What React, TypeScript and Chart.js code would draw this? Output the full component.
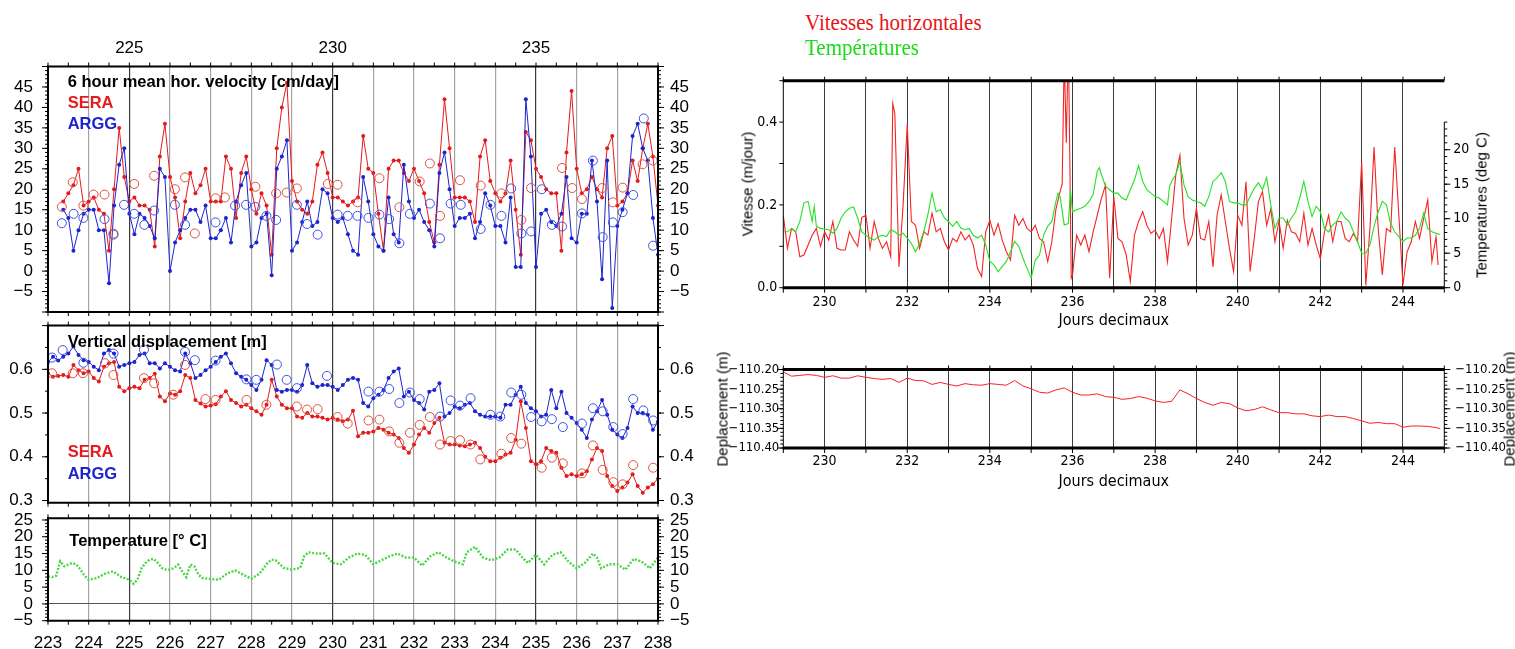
import React, { useEffect, useRef } from 'react';
import { Chart, registerables } from 'chart.js';

Chart.register(...registerables);

// ------------------------------------------------------------------
// DATA
// ------------------------------------------------------------------

// Left figure: common sampling days (every 3 h) for velocity and vertical displacement
const LEFT_DAYS = [
  223, 223.125, 223.25, 223.375, 223.5, 223.625, 223.75, 223.875,
  224, 224.125, 224.25, 224.375, 224.5, 224.625, 224.75, 224.875,
  225, 225.125, 225.25, 225.375, 225.5, 225.625, 225.75, 225.875,
  226, 226.125, 226.25, 226.375, 226.5, 226.625, 226.75, 226.875,
  227, 227.125, 227.25, 227.375, 227.5, 227.625, 227.75, 227.875,
  228, 228.125, 228.25, 228.375, 228.5, 228.625, 228.75, 228.875,
  229, 229.125, 229.25, 229.375, 229.5, 229.625, 229.75, 229.875,
  230, 230.125, 230.25, 230.375, 230.5, 230.625, 230.75, 230.875,
  231, 231.125, 231.25, 231.375, 231.5, 231.625, 231.75, 231.875,
  232, 232.125, 232.25, 232.375, 232.5, 232.625, 232.75, 232.875,
  233, 233.125, 233.25, 233.375, 233.5, 233.625, 233.75, 233.875,
  234, 234.125, 234.25, 234.375, 234.5, 234.625, 234.75, 234.875,
  235, 235.125, 235.25, 235.375, 235.5, 235.625, 235.75, 235.875,
  236, 236.125, 236.25, 236.375, 236.5, 236.625, 236.75, 236.875,
  237, 237.125, 237.25, 237.375, 237.5, 237.625, 237.75, 237.875,
  238,
];
// labelled days on the top axis of the velocity panel
const LEFT_TOP_DAYS = [225, 230, 235];

// 6 hour mean horizontal velocity [cm/day]
const SERA_VEL = [
  null, null, null, 17, 19, 21, 25, 16,
  17, 18, 15, 14, 5, 20, 35, 23,
  17, 18, 16, 16, 15, 6, 28, 36,
  23, 18, 8, 17, 24, 19, 21, 25,
  17, 17, 17, 28, 25, 13, 24, 28,
  20, 14, 19, 16, 4, 30, 40, 46,
  22, 17, 15, 14, 17, 26, 29, 24,
  18, 18, 17, 16, 17, 18, 33, 25,
  24, 14, 5, 25, 27, 27, 24, 22,
  25, 22, 19, 12, 7, 26, 42, 30,
  18, 18, 18, 17, 12, 28, 32, 22,
  19, 17, 19, 27, 15, 4, 34, 32,
  25, 23, 20, 19, 19, 5, 29, 44,
  25, 19, 20, 23, 20, 18, 30, 33,
  16, 17, 19, 27, 22, 30, 36, 28,
  16,
];
const ARGG_VEL = [
  null, null, null, 15, 13, 5, 10, 14,
  15, 15, 10, 10, -3, 16, 26, 30,
  14, 9, 14, 13, 11, 8, 25, 23,
  0, 7, 10, 13, 15, 15, 12, 16,
  8, 8, 10, 13, 7, 17, 21, 24,
  6, 7, 13, 14, -1, 25, 28, 32,
  5, 7, 12, 17, 11, 12, 20, 19,
  13, 12, 13, 9, 5, 4, 23, 17,
  9, 6, 5, 18, 9, 7, 26, 17,
  13, 15, 12, 10, 6, 24, 29, 20,
  11, 13, 13, 14, 8, 12, 19, 16,
  11, 11, 7, 18, 1, 1, 42, 28,
  1, 14, 15, 12, 11, 14, 23, 8,
  7, 14, 14, 27, 17, -2, 27, -9,
  11, 15, 19, 33, 36, 30, 27, 13,
  4,
];

// open circles (velocity)
const SERA_VEL_O_DAYS = [223.34, 223.61, 223.87, 224.12, 224.39, 224.61, 225.12, 225.61, 226.12, 226.37, 226.61, 227.12, 227.35, 228.1, 228.61, 228.87, 229.12, 229.88, 230.12, 230.61, 231.15, 231.64, 232.14, 232.39, 232.64, 233.13, 233.64, 234.15, 234.64, 234.88, 235.64, 235.89, 236.13, 236.63, 236.89, 237.13, 237.62, 237.87];
const SERA_VEL_O = [15.7, 21.7, 16, 18.7, 18.7, 9.2, 21.3, 23.3, 20, 22.9, 9.2, 17.8, 18, 20.6, 19, 19.2, 20.2, 21.3, 21.1, 16.8, 22.7, 15.6, 21.9, 26.3, 13.5, 22.2, 20.9, 19, 12.5, 20.3, 25.2, 20.3, 17.6, 20.3, 16.8, 20.4, 26.1, 27];
const ARGG_VEL_O_DAYS = [223.34, 223.63, 223.87, 224.39, 224.61, 224.87, 225.12, 225.37, 225.61, 226.12, 226.37, 227.12, 227.6, 227.87, 228.1, 228.37, 228.61, 229.12, 229.37, 229.63, 230.12, 230.37, 230.61, 230.88, 231.15, 231.39, 231.64, 231.9, 232.39, 232.64, 232.9, 233.15, 233.64, 233.88, 234.15, 234.39, 234.64, 234.88, 235.14, 235.39, 235.64, 236.13, 236.4, 236.64, 236.89, 237.13, 237.39, 237.65, 237.88];
const ARGG_VEL_O = [11.7, 14, 13, 12.7, 8.9, 16.2, 14, 11.3, 14.8, 16.2, 11.3, 11.9, 16, 16.2, 15.7, 13.5, 12.5, 16.2, 11.5, 8.9, 13.8, 13.5, 13.5, 13, 13.8, 12.7, 6.8, 14, 16.5, 8, 16.5, 16.2, 10.3, 16.2, 13.5, 20.2, 9.2, 9.7, 20, 11.3, 10.9, 14.1, 27, 8.3, 11.9, 14.4, 18.6, 37.3, 6.2];

// Vertical displacement [m]
const SERA_DISP = [
  0.591, 0.583, 0.585, 0.587, 0.583, 0.61, 0.598, 0.591,
  0.595, 0.58, 0.572, 0.606, 0.614, 0.617, 0.56, 0.55,
  0.557, 0.56, 0.557, 0.576, 0.58, 0.59, 0.538, 0.527,
  0.545, 0.542, 0.55, 0.587, 0.58, 0.53, 0.522, 0.515,
  0.517, 0.52, 0.538, 0.55, 0.53, 0.523, 0.515, 0.519,
  0.511, 0.504, 0.496, 0.519, 0.576, 0.538, 0.519, 0.511,
  0.511, 0.492, 0.489, 0.5, 0.492, 0.492, 0.489, 0.485,
  0.489, 0.485, 0.481, 0.485, 0.505, 0.447, 0.455, 0.455,
  0.458, 0.466, 0.462, 0.455, 0.451, 0.443, 0.42, 0.409,
  0.428, 0.451, 0.466, 0.455, 0.477, 0.489, 0.432, 0.428,
  0.428, 0.426, 0.424, 0.428, 0.432, 0.42, 0.4, 0.39,
  0.39, 0.398, 0.405, 0.409, 0.439, 0.527, 0.466, 0.39,
  0.383, 0.39, 0.42, 0.413, 0.409, 0.375, 0.356, 0.36,
  0.356, 0.36, 0.367, 0.394, 0.42, 0.413, 0.356, 0.333,
  0.322, 0.33, 0.341, 0.36, 0.333, 0.318, 0.33, 0.337,
  0.35,
];
const ARGG_DISP = [
  0.617, 0.629, 0.62, 0.629, 0.636, 0.652, 0.633, 0.621,
  0.617, 0.606, 0.598, 0.636, 0.644, 0.636, 0.606, 0.61,
  0.614, 0.617, 0.633, 0.636, 0.614, 0.614, 0.602, 0.614,
  0.606, 0.598, 0.595, 0.636, 0.614, 0.58, 0.587, 0.598,
  0.606, 0.617, 0.629, 0.636, 0.614, 0.591, 0.583, 0.576,
  0.564, 0.553, 0.576, 0.621, 0.61, 0.553, 0.549, 0.553,
  0.553, 0.549, 0.564, 0.61, 0.568, 0.56, 0.564, 0.564,
  0.56, 0.553, 0.564, 0.576, 0.58, 0.576, 0.523, 0.515,
  0.534, 0.542, 0.553, 0.58, 0.595, 0.602, 0.538, 0.549,
  0.53, 0.523, 0.508, 0.549, 0.553, 0.568, 0.492, 0.5,
  0.515, 0.511, 0.519, 0.523, 0.504, 0.496, 0.492, 0.492,
  0.492, 0.489, 0.519, 0.519, 0.542, 0.56, 0.523, 0.511,
  0.504, 0.492, 0.496, 0.553, 0.511, 0.549, 0.5, 0.489,
  0.477, 0.462, 0.443, 0.485, 0.504, 0.53, 0.496, 0.462,
  0.451, 0.443, 0.466, 0.515, 0.5, 0.5, 0.496, 0.462,
  0.48,
];

// open circles (displacement)
const SERA_DISP_O_DAYS = [223.1, 223.61, 223.86, 224.4, 224.61, 225.36, 225.61, 226.08, 226.37, 226.87, 227.12, 227.88, 228.37, 229.12, 229.37, 229.63, 230.12, 230.37, 230.88, 231.15, 231.39, 231.64, 231.9, 232.14, 232.39, 232.64, 232.9, 233.13, 233.39, 233.63, 234.15, 234.39, 234.64, 235.14, 235.39, 235.66, 236.13, 236.4, 236.64, 236.9, 237.13, 237.39, 237.88];
const SERA_DISP_O = [0.591, 0.591, 0.591, 0.614, 0.587, 0.58, 0.568, 0.542, 0.61, 0.532, 0.53, 0.53, 0.519, 0.515, 0.508, 0.509, 0.491, 0.476, 0.483, 0.485, 0.458, 0.432, 0.455, 0.473, 0.491, 0.428, 0.436, 0.438, 0.428, 0.394, 0.407, 0.443, 0.43, 0.375, 0.398, 0.385, 0.362, 0.426, 0.37, 0.342, 0.337, 0.381, 0.375];
const ARGG_DISP_O_DAYS = [223.1, 223.36, 223.87, 224.61, 225.36, 226.37, 226.61, 227.12, 227.88, 228.12, 228.63, 228.87, 229.12, 229.86, 230.88, 231.15, 231.39, 231.64, 231.9, 232.14, 232.64, 232.9, 233.13, 233.39, 233.88, 234.12, 234.39, 234.64, 234.88, 235.14, 235.39, 235.66, 236.13, 236.4, 236.64, 236.9, 237.13, 237.39, 237.64, 237.88];
const ARGG_DISP_O = [0.627, 0.644, 0.615, 0.636, 0.645, 0.64, 0.621, 0.62, 0.577, 0.576, 0.611, 0.576, 0.557, 0.585, 0.549, 0.549, 0.555, 0.523, 0.547, 0.532, 0.492, 0.529, 0.517, 0.534, 0.496, 0.492, 0.547, 0.542, 0.491, 0.481, 0.486, 0.468, 0.476, 0.511, 0.504, 0.468, 0.452, 0.532, 0.506, 0.483];

// Temperature [deg C] (left figure)
const TEMP_L_DAYS = [223.0, 223.1, 223.2, 223.3, 223.4, 223.5, 223.6, 223.7, 223.8, 223.9, 224.0, 224.2, 224.4, 224.6, 224.8, 225.0, 225.1, 225.2, 225.3, 225.4, 225.5, 225.6, 225.7, 225.8, 225.9, 226.0, 226.1, 226.2, 226.3, 226.4, 226.5, 226.6, 226.7, 226.8, 227.0, 227.2, 227.4, 227.6, 227.8, 228.0, 228.2, 228.4, 228.5, 228.6, 228.8, 229.0, 229.2, 229.3, 229.4, 229.6, 229.8, 230.0, 230.2, 230.4, 230.6, 230.8, 231.0, 231.2, 231.4, 231.6, 231.8, 232.0, 232.2, 232.4, 232.6, 232.8, 233.0, 233.2, 233.3, 233.5, 233.7, 233.9, 234.1, 234.3, 234.5, 234.7, 234.8, 235.0, 235.2, 235.4, 235.6, 235.8, 236.0, 236.2, 236.4, 236.5, 236.6, 236.8, 237.0, 237.2, 237.4, 237.6, 237.8, 238.0];
const TEMP_L = [8.2, 8.0, 8.4, 12.7, 11.2, 11.7, 12.2, 11.7, 10.2, 8.4, 7.2, 7.7, 9.0, 9.7, 8.0, 7.2, 6.0, 7.2, 10.7, 12.2, 13.2, 13.4, 12.2, 10.7, 10.2, 10.2, 10.7, 11.7, 9.7, 8.0, 11.7, 11.2, 8.7, 7.7, 7.4, 7.2, 9.0, 10.0, 8.7, 7.5, 9.0, 12.2, 13.2, 13.0, 10.7, 10.2, 10.7, 14.2, 15.4, 15.0, 15.0, 12.2, 11.8, 13.8, 15.0, 14.6, 11.8, 13.0, 14.2, 15.0, 13.8, 13.8, 11.4, 14.2, 15.4, 13.8, 12.6, 11.8, 15.4, 17.0, 13.8, 13.0, 13.8, 16.2, 16.2, 13.4, 12.2, 14.6, 11.8, 14.6, 15.4, 12.6, 10.6, 12.2, 15.0, 13.8, 10.6, 11.8, 11.8, 10.2, 13.4, 12.6, 10.6, 13.8];

// Right figure: horizontal velocity [m/jour]
const R_VEL_DAYS = [
  229.0, 229.1, 229.2, 229.3, 229.4, 229.5, 229.6, 229.7, 229.8, 229.9,
  230.0, 230.1, 230.2, 230.3, 230.4, 230.5, 230.6, 230.7, 230.8, 230.9,
  231.0, 231.1, 231.2, 231.3, 231.4, 231.5, 231.6, 231.65, 231.7, 231.8, 231.9,
  232.0, 232.1, 232.2, 232.3, 232.4, 232.5, 232.6, 232.7, 232.8, 232.9,
  233.0, 233.1, 233.2, 233.3, 233.4, 233.5, 233.6, 233.7, 233.8, 233.9,
  234.0, 234.1, 234.2, 234.3, 234.4, 234.5, 234.6, 234.7, 234.8, 234.9,
  235.0, 235.1, 235.2, 235.3, 235.4, 235.5, 235.6, 235.7, 235.75, 235.8, 235.85, 235.9, 235.97,
  236.0, 236.1, 236.2, 236.3, 236.4, 236.5, 236.6, 236.7, 236.8, 236.9,
  237.0, 237.1, 237.2, 237.3, 237.4, 237.5, 237.6, 237.7, 237.8, 237.9,
  238.0, 238.1, 238.2, 238.3, 238.4, 238.5, 238.6, 238.7, 238.8, 238.9,
  239.0, 239.1, 239.2, 239.3, 239.4, 239.5, 239.6, 239.7, 239.8, 239.9,
  240.0, 240.1, 240.2, 240.3, 240.4, 240.5, 240.6, 240.7, 240.8, 240.9,
  241.0, 241.1, 241.2, 241.3, 241.4, 241.5, 241.6, 241.7, 241.8, 241.9,
  242.0, 242.1, 242.2, 242.3, 242.4, 242.5, 242.6, 242.7, 242.8, 242.9,
  243.0, 243.1, 243.2, 243.3, 243.4, 243.5, 243.6, 243.7, 243.8, 243.9,
  244.0, 244.1, 244.2, 244.3, 244.4, 244.5, 244.6, 244.7, 244.8, 244.85,
];
const R_VEL = [
  0.175, 0.095, 0.143, 0.135, 0.075, 0.079, 0.103, 0.127, 0.143, 0.100,
  0.135, 0.115, 0.160, 0.095, 0.091, 0.091, 0.135, 0.115, 0.100, 0.170,
  0.175, 0.095, 0.160, 0.119, 0.095, 0.111, 0.075, 0.445, 0.420, 0.050, 0.200,
  0.395, 0.160, 0.151, 0.095, 0.135, 0.127, 0.180, 0.135, 0.143, 0.111,
  0.091, 0.119, 0.111, 0.135, 0.115, 0.127, 0.103, 0.047, 0.027, 0.135,
  0.163, 0.127, 0.155, 0.115, 0.087, 0.067, 0.175, 0.151, 0.167, 0.143,
  0.135, 0.151, 0.119, 0.111, 0.063, 0.111, 0.190, 0.232, 0.250, 0.560, 0.350, 0.600, 0.023,
  0.030, 0.127, 0.103, 0.127, 0.087, 0.135, 0.175, 0.216, 0.248, 0.023,
  0.220, 0.119, 0.111, 0.079, 0.015, 0.127, 0.160, 0.184, 0.151, 0.131,
  0.139, 0.119, 0.143, 0.063, 0.167, 0.272, 0.320, 0.167, 0.103, 0.127,
  0.192, 0.119, 0.115, 0.160, 0.050, 0.175, 0.224, 0.160, 0.095, 0.039,
  0.175, 0.151, 0.256, 0.039, 0.119, 0.208, 0.232, 0.151, 0.190, 0.111,
  0.160, 0.095, 0.163, 0.135, 0.131, 0.111, 0.180, 0.103, 0.143, 0.103,
  0.070, 0.135, 0.175, 0.111, 0.160, 0.160, 0.119, 0.111, 0.131, 0.111,
  0.304, 0.006, 0.143, 0.340, 0.143, 0.031, 0.143, 0.135, 0.340, 0.175,
  0.006, 0.087, 0.111, 0.160, 0.119, 0.167, 0.212, 0.063, 0.123, 0.055,
];

// Right figure: temperatures [deg C]
const R_TEMP_DAYS = [
  229.0, 229.1, 229.2, 229.3, 229.4, 229.5, 229.6, 229.7, 229.75, 229.8, 229.9,
  230.0, 230.1, 230.2, 230.3, 230.4, 230.5, 230.6, 230.7, 230.8, 230.9,
  231.0, 231.1, 231.2, 231.3, 231.4, 231.5, 231.6, 231.7, 231.8, 231.9,
  232.0, 232.1, 232.2, 232.3, 232.4, 232.5, 232.6, 232.7, 232.8, 232.9,
  233.0, 233.1, 233.2, 233.3, 233.4, 233.5, 233.6, 233.7, 233.8, 233.9,
  234.0, 234.1, 234.2, 234.3, 234.4, 234.5, 234.6, 234.7, 234.8, 234.9,
  235.0, 235.1, 235.2, 235.3, 235.4, 235.5, 235.6, 235.65, 235.7, 235.8, 235.9, 235.95,
  236.0, 236.1, 236.2, 236.3, 236.4, 236.5, 236.6, 236.65, 236.7, 236.8, 236.9,
  237.0, 237.1, 237.2, 237.3, 237.4, 237.5, 237.6, 237.7, 237.8, 237.9,
  238.0, 238.1, 238.2, 238.3, 238.35, 238.4, 238.5, 238.6, 238.7, 238.8, 238.9,
  239.0, 239.1, 239.2, 239.3, 239.4, 239.5, 239.6, 239.7, 239.8, 239.9,
  240.0, 240.1, 240.2, 240.3, 240.4, 240.5, 240.6, 240.7, 240.8, 240.9,
  241.0, 241.1, 241.2, 241.3, 241.4, 241.5, 241.6, 241.7, 241.8, 241.9,
  242.0, 242.1, 242.2, 242.3, 242.4, 242.5, 242.6, 242.7, 242.8, 242.9,
  243.0, 243.1, 243.2, 243.3, 243.4, 243.5, 243.6, 243.7, 243.8, 243.9,
  244.0, 244.1, 244.2, 244.3, 244.4, 244.5, 244.6, 244.7, 244.8, 244.9,
];
const R_TEMP = [
  8.1, 8.1, 8.6, 8.1, 9.6, 12.3, 12.5, 9.6, 11.8, 8.9, 8.6,
  8.5, 8.4, 7.9, 8.6, 10.1, 11.0, 11.5, 11.7, 10.1, 8.1,
  7.6, 7.2, 6.9, 7.4, 7.6, 7.4, 8.4, 8.1, 7.6, 7.9,
  7.2, 6.4, 5.2, 6.4, 8.1, 10.6, 13.7, 11.0, 11.3, 10.1,
  9.6, 8.9, 9.6, 8.6, 8.4, 8.6, 7.6, 7.2, 7.6, 6.2,
  3.8, 3.3, 2.3, 3.1, 3.8, 5.2, 6.7, 6.0, 4.3, 2.8,
  1.4, 4.0, 4.7, 7.6, 8.9, 9.6, 12.5, 13.7, 13.2, 9.1, 9.3, 14.2,
  11.0, 11.3, 11.5, 11.8, 12.5, 13.5, 16.9, 17.4, 16.4, 14.7, 14.2,
  13.7, 13.7, 13.0, 12.7, 14.2, 15.6, 17.7, 15.4, 14.2, 13.7,
  13.2, 13.0, 12.5, 12.0, 14.7, 15.4, 16.4, 18.2, 14.9, 13.2, 12.7,
  12.5, 12.3, 11.8, 13.2, 15.4, 15.9, 16.7, 15.4, 12.5, 12.3,
  12.3, 12.0, 12.0, 13.2, 14.4, 15.2, 14.2, 16.0, 12.0, 8.6,
  10.1, 10.1, 9.1, 10.1, 11.0, 13.0, 15.4, 12.5, 10.3, 11.8,
  11.0, 8.6, 8.1, 9.1, 9.6, 11.0, 10.1, 9.6, 8.1, 6.7,
  5.0, 5.0, 6.2, 8.9, 11.0, 12.5, 12.0, 9.3, 8.1, 7.4,
  6.7, 7.2, 7.2, 7.6, 8.6, 10.8, 8.6, 8.1, 7.9, 7.7,
];

// Right figure: displacement [m]
const R_DISP_DAYS = [
  229.0, 229.2, 229.4, 229.6, 229.8, 230.0, 230.2, 230.4, 230.6, 230.8,
  231.0, 231.2, 231.4, 231.6, 231.8, 232.0, 232.2, 232.4, 232.6, 232.8,
  233.0, 233.2, 233.4, 233.6, 233.8, 234.0, 234.2, 234.4, 234.6, 234.8,
  235.0, 235.2, 235.4, 235.6, 235.8, 236.0, 236.2, 236.4, 236.6, 236.8,
  237.0, 237.2, 237.4, 237.6, 237.8, 238.0, 238.2, 238.4, 238.6, 238.8,
  239.0, 239.2, 239.4, 239.6, 239.8, 240.0, 240.2, 240.4, 240.6, 240.8,
  241.0, 241.2, 241.4, 241.6, 241.8, 242.0, 242.2, 242.4, 242.6, 242.8,
  243.0, 243.2, 243.4, 243.6, 243.8, 244.0, 244.2, 244.4, 244.6, 244.8, 244.9,
];
const R_DISP = [
  -110.206, -110.217, -110.215, -110.213, -110.215, -110.22, -110.216, -110.222, -110.222, -110.216,
  -110.22, -110.223, -110.225, -110.223, -110.233, -110.222, -110.228, -110.229, -110.238, -110.233,
  -110.238, -110.242, -110.236, -110.239, -110.24, -110.236, -110.238, -110.24, -110.228, -110.242,
  -110.249, -110.258, -110.26, -110.252, -110.247, -110.258, -110.265, -110.265, -110.262, -110.269,
  -110.271, -110.276, -110.274, -110.269, -110.273, -110.28, -110.284, -110.281, -110.252, -110.262,
  -110.274, -110.284, -110.291, -110.284, -110.287, -110.298, -110.305, -110.302, -110.295, -110.303,
  -110.31, -110.31, -110.313, -110.313, -110.318, -110.32, -110.316, -110.32, -110.32, -110.325,
  -110.331, -110.337, -110.335, -110.338, -110.338, -110.347, -110.344, -110.344, -110.345, -110.348, -110.351,
];

// ------------------------------------------------------------------
// STYLE
// ------------------------------------------------------------------
const SANS = "'Liberation Sans', Arial, Helvetica, sans-serif";
const NARROW = "'Liberation Sans Narrow', 'DejaVu Sans Condensed', sans-serif";
const SERIF = "'Liberation Serif', 'Times New Roman', serif";
const RED = 'rgb(228,26,28)';
const BLUE = 'rgb(28,36,205)';
const RED_O = 'rgb(222,80,62)';
const BLUE_O = 'rgb(60,80,225)';
const GREEN_L = 'rgb(70,215,70)';
const R_RED = 'rgb(245,35,35)';
const R_GREEN = 'rgb(35,225,35)';

const pts = (xs: number[], ys: (number | null)[]) => xs.map((x, i) => ({ x, y: ys[i] }));
const minus = (v: number) => (v < 0 ? '\u2212' + Math.abs(v) : String(v));

type Edge = 'left' | 'right' | 'top' | 'bottom';
interface TickSpec { scale: string; edge: Edge; step: number; len: number; from?: number; to?: number }
interface FrameSpec { top: number; bottom: number; left: number; right: number; partialRight?: { scale: string; from: number; to: number } }

function framePlugin(ticks: TickSpec[], frame: FrameSpec) {
  return {
    id: 'gmtFrame',
    afterDraw(chart: any) {
      const ctx = chart.ctx;
      const a = chart.chartArea;
      ctx.save();
      ctx.strokeStyle = '#000';
      ctx.lineWidth = 1;
      for (const t of ticks) {
        const s = chart.scales[t.scale];
        if (!s) continue;
        const lo = t.from ?? s.min;
        const hi = t.to ?? s.max;
        const i0 = Math.ceil(lo / t.step - 1e-6);
        const i1 = Math.floor(hi / t.step + 1e-6);
        ctx.beginPath();
        for (let i = i0; i <= i1; i++) {
          const p = s.getPixelForValue(i * t.step);
          if (t.edge === 'left') { ctx.moveTo(a.left, p); ctx.lineTo(a.left - t.len, p); }
          else if (t.edge === 'right') { ctx.moveTo(a.right, p); ctx.lineTo(a.right + t.len, p); }
          else if (t.edge === 'top') { ctx.moveTo(p, a.top); ctx.lineTo(p, a.top - t.len); }
          else { ctx.moveTo(p, a.bottom); ctx.lineTo(p, a.bottom + t.len); }
        }
        ctx.stroke();
      }
      const line = (w: number, x1: number, y1: number, x2: number, y2: number) => {
        if (w <= 0) return;
        ctx.lineWidth = w;
        ctx.beginPath();
        ctx.moveTo(x1, y1);
        ctx.lineTo(x2, y2);
        ctx.stroke();
      };
      line(frame.left, a.left, a.top - frame.top / 2, a.left, a.bottom + frame.bottom / 2);
      line(frame.right, a.right, a.top - frame.top / 2, a.right, a.bottom + frame.bottom / 2);
      line(frame.top, a.left - frame.left / 2, a.top, a.right + frame.right / 2, a.top);
      line(frame.bottom, a.left - frame.left / 2, a.bottom, a.right + frame.right / 2, a.bottom);
      if (frame.partialRight) {
        const s = chart.scales[frame.partialRight.scale];
        line(1, a.right, s.getPixelForValue(frame.partialRight.from), a.right, s.getPixelForValue(frame.partialRight.to));
      }
      ctx.restore();
    },
  };
}

const baseOptions = (padTop: number) => ({
  responsive: false,
  animation: false,
  events: [],
  layout: { padding: { top: padTop, left: 0, right: 0, bottom: 0 }, autoPadding: false },
  plugins: { legend: { display: false }, tooltip: { enabled: false }, title: { display: false } },
});

// left figure axes
const xLeft = (h: number, labels: boolean) => ({
  type: 'linear', position: 'bottom', min: 223, max: 238,
  afterFit: (s: any) => { s.height = h; },
  grid: {
    drawTicks: false, lineWidth: 1.2,
    color: (c: any) => (c.tick && Math.round(c.tick.value) % 5 === 0 ? '#3a3a3a' : '#a4a4a4'),
  },
  border: { display: false },
  ticks: {
    display: labels, stepSize: 1, autoSkip: false, maxRotation: 0, minRotation: 0, padding: 12,
    color: '#000', font: { family: SANS, size: 17 }, callback: (v: number) => String(v),
  },
});
const yLeft = (pos: 'left' | 'right', min: number, max: number, step: number, fmt: (v: number) => string | null, grid?: any) => ({
  type: 'linear', position: pos, min, max,
  afterFit: (s: any) => { s.width = pos === 'left' ? 48 : 42; },
  grid: grid ?? { drawOnChartArea: false, drawTicks: false },
  border: { display: false },
  ticks: {
    stepSize: step, includeBounds: false, autoSkip: false, padding: pos === 'left' ? 15 : 12,
    color: '#000', font: { family: SANS, size: 17 }, callback: fmt,
  },
});
const leftTicks = (yStepMinor: number, yStepMajor: number): TickSpec[] => [
  { scale: 'y', edge: 'left', step: yStepMinor, len: 3 },
  { scale: 'y', edge: 'left', step: yStepMajor, len: 6 },
  { scale: 'yR', edge: 'right', step: yStepMinor, len: 3 },
  { scale: 'yR', edge: 'right', step: yStepMajor, len: 6 },
  { scale: 'x', edge: 'top', step: 0.5, len: 4 },
  { scale: 'x', edge: 'bottom', step: 0.5, len: 4 },
];
const LEFT_FRAME: FrameSpec = { top: 2, bottom: 2, left: 2, right: 2 };

const fmtVel = (v: number) => (v >= -5 && v <= 45 ? minus(v) : null);
const fmtDisp = (v: number) => {
  const r = Math.round(v * 10) / 10;
  return Math.abs(v - r) < 1e-6 && r >= 0.299 && r <= 0.601 ? r.toFixed(1) : null;
};
const fmtTemp = (v: number) => (v >= -5 && v <= 25 ? minus(v) : null);

function cfgL1(): any {
  return {
    type: 'scatter',
    data: {
      datasets: [
        { data: pts(LEFT_DAYS, SERA_VEL), showLine: true, borderColor: RED, borderWidth: 1, pointRadius: 2, pointBorderWidth: 0, pointBackgroundColor: RED, order: 3 },
        { data: pts(LEFT_DAYS, ARGG_VEL), showLine: true, borderColor: BLUE, borderWidth: 1, pointRadius: 2, pointBorderWidth: 0, pointBackgroundColor: BLUE, order: 2 },
        { data: pts(SERA_VEL_O_DAYS, SERA_VEL_O), showLine: false, pointRadius: 4.5, pointBorderWidth: 1, pointBorderColor: RED_O, pointBackgroundColor: 'rgba(0,0,0,0)', order: 1 },
        { data: pts(ARGG_VEL_O_DAYS, ARGG_VEL_O), showLine: false, pointRadius: 4.5, pointBorderWidth: 1, pointBorderColor: BLUE_O, pointBackgroundColor: 'rgba(0,0,0,0)', order: 0 },
      ],
    },
    options: {
      ...baseOptions(0),
      scales: {
        x: xLeft(30, false),
        xTop: {
          type: 'linear', position: 'top', min: 223, max: 238,
          afterFit: (s: any) => { s.height = 66.5; },
          afterBuildTicks: (s: any) => { s.ticks = LEFT_TOP_DAYS.map((v) => ({ value: v })); },
          grid: { display: false, drawTicks: false },
          border: { display: false },
          ticks: {
            autoSkip: false, maxRotation: 0, minRotation: 0, padding: 8,
            color: '#000', font: { family: SANS, size: 17 }, callback: (v: number) => String(v),
          },
        },
        y: yLeft('left', -10, 50, 5, fmtVel),
        yR: yLeft('right', -10, 50, 5, fmtVel),
      },
    },
    plugins: [framePlugin(leftTicks(1, 5), LEFT_FRAME)],
  };
}

function cfgL2(): any {
  return {
    type: 'scatter',
    data: {
      datasets: [
        { data: pts(LEFT_DAYS, SERA_DISP), showLine: true, borderColor: RED, borderWidth: 1, pointRadius: 2, pointBorderWidth: 0, pointBackgroundColor: RED, order: 3 },
        { data: pts(LEFT_DAYS, ARGG_DISP), showLine: true, borderColor: BLUE, borderWidth: 1, pointRadius: 2, pointBorderWidth: 0, pointBackgroundColor: BLUE, order: 2 },
        { data: pts(SERA_DISP_O_DAYS, SERA_DISP_O), showLine: false, pointRadius: 4.5, pointBorderWidth: 1, pointBorderColor: RED_O, pointBackgroundColor: 'rgba(0,0,0,0)', order: 1 },
        { data: pts(ARGG_DISP_O_DAYS, ARGG_DISP_O), showLine: false, pointRadius: 4.5, pointBorderWidth: 1, pointBorderColor: BLUE_O, pointBackgroundColor: 'rgba(0,0,0,0)', order: 0 },
      ],
    },
    options: {
      ...baseOptions(30.6),
      scales: {
        x: xLeft(30.3, false),
        y: yLeft('left', 0.295, 0.7, 0.1, fmtDisp),
        yR: yLeft('right', 0.295, 0.7, 0.1, fmtDisp),
      },
    },
    plugins: [framePlugin(leftTicks(0.05, 0.1), LEFT_FRAME)],
  };
}

function cfgL3(): any {
  const zeroGrid = {
    drawOnChartArea: true, drawTicks: false, lineWidth: 1,
    color: (c: any) => (c.tick && Math.abs(c.tick.value) < 1e-9 ? '#555' : 'rgba(0,0,0,0)'),
  };
  return {
    type: 'scatter',
    data: {
      datasets: [
        { data: pts(TEMP_L_DAYS, TEMP_L), showLine: true, borderColor: GREEN_L, borderWidth: 2.4, borderDash: [2, 1.6], pointRadius: 0 },
      ],
    },
    options: {
      ...baseOptions(30.3),
      scales: {
        x: xLeft(28.3, true),
        y: yLeft('left', -5, 25.5, 5, fmtTemp, zeroGrid),
        yR: yLeft('right', -5, 25.5, 5, fmtTemp),
      },
    },
    plugins: [framePlugin(leftTicks(1, 5), LEFT_FRAME)],
  };
}

// right figure axes
const xRight = (h: number, pad: number) => ({
  type: 'linear', position: 'bottom', min: 229, max: 245,
  afterFit: (s: any) => { s.height = h; },
  grid: {
    drawTicks: false, lineWidth: 1,
    color: (c: any) => (c.tick && c.tick.value > 229.5 && c.tick.value < 244.5 ? 'rgba(25,25,25,0.85)' : 'rgba(0,0,0,0)'),
  },
  border: { display: false },
  ticks: {
    stepSize: 1, autoSkip: false, maxRotation: 0, minRotation: 0, padding: pad,
    color: '#000', font: { family: NARROW, size: 14 },
    callback: (v: number) => (Math.round(v) % 2 === 0 && v >= 230 && v <= 244 ? String(v) : ''),
  },
});
const yRight = (pos: 'left' | 'right', min: number, max: number, step: number, pad: number, size: number, fmt: (v: number) => string | null) => ({
  type: 'linear', position: pos, min, max,
  afterFit: (s: any) => { s.width = pos === 'left' ? 83.3 : 70.7; },
  grid: { drawOnChartArea: false, drawTicks: false },
  border: { display: false },
  ticks: {
    stepSize: step, autoSkip: false, padding: pad,
    color: '#000', font: { family: NARROW, size }, callback: fmt,
  },
});

function cfgR1(): any {
  return {
    type: 'scatter',
    data: {
      datasets: [
        { data: pts(R_TEMP_DAYS, R_TEMP), yAxisID: 'y2', showLine: true, borderColor: R_GREEN, borderWidth: 1.1, pointRadius: 0, order: 0 },
        { data: pts(R_VEL_DAYS, R_VEL), yAxisID: 'y', showLine: true, borderColor: R_RED, borderWidth: 1.1, pointRadius: 0, order: 1 },
      ],
    },
    options: {
      ...baseOptions(40.7),
      scales: {
        x: xRight(52.3, 6),
        y: yRight('left', 0, 0.5, 0.1, 6, 14, (v: number) => {
          const r = Math.round(v * 10);
          return r % 2 === 0 && r <= 4 ? (r / 10).toFixed(1) : null;
        }),
        y2: yRight('right', 0, 30, 5, 9, 14, (v: number) => (v <= 20 ? String(v) : null)),
      },
    },
    plugins: [framePlugin([
      { scale: 'x', edge: 'bottom', step: 1, len: 5 },
      { scale: 'x', edge: 'top', step: 1, len: 4 },
      { scale: 'y', edge: 'left', step: 0.1, len: 4 },
      { scale: 'y2', edge: 'right', step: 1, len: 3, from: 0, to: 24 },
      { scale: 'y2', edge: 'right', step: 5, len: 6, from: 0, to: 20 },
    ], { top: 3, bottom: 3, left: 1, right: 0, partialRight: { scale: 'y2', from: 0, to: 24 } })],
  };
}

function cfgR2(): any {
  const fmt = (v: number) => (Math.round(v * 100) / 100).toFixed(2).replace('-', '\u2212');
  return {
    type: 'scatter',
    data: {
      datasets: [
        { data: pts(R_DISP_DAYS, R_DISP), showLine: true, borderColor: R_RED, borderWidth: 1, pointRadius: 0 },
      ],
    },
    options: {
      ...baseOptions(29.5),
      scales: {
        x: xRight(52, 5),
        y: yRight('left', -110.4, -110.2, 0.05, 4, 13, fmt),
        y2: yRight('right', -110.4, -110.2, 0.05, 11, 13, fmt),
      },
    },
    plugins: [framePlugin([
      { scale: 'x', edge: 'bottom', step: 1, len: 5 },
      { scale: 'x', edge: 'top', step: 1, len: 4 },
      { scale: 'y', edge: 'left', step: 0.01, len: 3 },
      { scale: 'y', edge: 'left', step: 0.05, len: 6 },
      { scale: 'y2', edge: 'right', step: 0.01, len: 3 },
      { scale: 'y2', edge: 'right', step: 0.05, len: 6 },
    ], { top: 3, bottom: 3, left: 1, right: 1 })],
  };
}

// ------------------------------------------------------------------
// TEXT HELPERS
// ------------------------------------------------------------------
const Txt = (p: { x: number; cy: number; size: number; color?: string; bold?: boolean; family?: string; children: any }) => (
  <div style={{
    position: 'absolute', left: p.x, top: p.cy - p.size / 2, fontFamily: p.family ?? SANS, fontSize: p.size,
    lineHeight: `${p.size}px`, fontWeight: p.bold ? 700 : 400, color: p.color ?? '#000', whiteSpace: 'nowrap',
  }}>{p.children}</div>
);
const CTxt = (p: { cx: number; cy: number; size: number; family?: string; rotate?: boolean; children: any }) => (
  <div style={{
    position: 'absolute', left: p.cx, top: p.cy, fontFamily: p.family ?? SANS, fontSize: p.size,
    lineHeight: `${p.size}px`, color: '#000', whiteSpace: 'nowrap',
    transform: `translate(-50%, -50%)${p.rotate ? ' rotate(-90deg)' : ''}`,
  }}>{p.children}</div>
);

export default function App() {
  const c1 = useRef<HTMLCanvasElement>(null);
  const c2 = useRef<HTMLCanvasElement>(null);
  const c3 = useRef<HTMLCanvasElement>(null);
  const c4 = useRef<HTMLCanvasElement>(null);
  const c5 = useRef<HTMLCanvasElement>(null);

  useEffect(() => {
    const charts: Chart[] = [];
    if (c1.current) charts.push(new Chart(c1.current, cfgL1()));
    if (c2.current) charts.push(new Chart(c2.current, cfgL2()));
    if (c3.current) charts.push(new Chart(c3.current, cfgL3()));
    if (c4.current) charts.push(new Chart(c4.current, cfgR1()));
    if (c5.current) charts.push(new Chart(c5.current, cfgR2()));
    return () => { charts.forEach((c) => c.destroy()); };
  }, []);

  const cv = (left: number, top: number, w: number, h: number) => ({ position: 'absolute' as const, left, top, width: w, height: h });

  return (
    <div style={{ position: 'absolute', left: 0, top: 0, width: 1515, height: 649, overflow: 'hidden', background: '#fff' }}>
      <canvas ref={c1} width={700} height={342} style={cv(0, 0, 700, 342)} />
      <canvas ref={c2} width={700} height={238} style={cv(0, 295, 700, 238)} />
      <canvas ref={c3} width={700} height={161} style={cv(0, 488, 700, 161)} />
      <canvas ref={c4} width={815} height={300} style={cv(700, 40, 815, 300)} />
      <canvas ref={c5} width={815} height={160} style={cv(700, 340, 815, 160)} />

      {/* left figure labels */}
      <Txt x={67.7} cy={81.7} size={16.5} bold>6 hour mean hor. velocity [cm/day]</Txt>
      <Txt x={67.7} cy={102.7} size={16.5} bold color={RED}>SERA</Txt>
      <Txt x={67.7} cy={123.3} size={16.5} bold color={BLUE}>ARGG</Txt>
      <Txt x={67.7} cy={341.7} size={16.5} bold>Vertical displacement [m]</Txt>
      <Txt x={67.7} cy={451.7} size={16.5} bold color={RED}>SERA</Txt>
      <Txt x={67.7} cy={473.3} size={16.5} bold color={BLUE}>ARGG</Txt>
      <Txt x={69.3} cy={540.7} size={16.5} bold>Temperature [° C]</Txt>

      {/* right figure legend */}
      <div style={{ position: 'absolute', left: 805, top: 9.9, fontFamily: SERIF, fontSize: 24, lineHeight: '24px', color: 'rgb(232,20,20)', whiteSpace: 'nowrap', transform: 'scaleX(0.875)', transformOrigin: 'left center' }}>Vitesses horizontales</div>
      <div style={{ position: 'absolute', left: 805, top: 35.4, fontFamily: SERIF, fontSize: 24, lineHeight: '24px', color: 'rgb(25,220,25)', whiteSpace: 'nowrap', transform: 'scaleX(0.875)', transformOrigin: 'left center' }}>Températures</div>

      {/* right figure axis titles */}
      <CTxt cx={746.8} cy={184.2} size={15} rotate>Vitesse (m/jour)</CTxt>
      <CTxt cx={1481} cy={205} size={15} rotate>Temperatures (deg C)</CTxt>
      <CTxt cx={1113.8} cy={320} size={16} family={NARROW}>Jours decimaux</CTxt>
      <CTxt cx={721.5} cy={408.7} size={15} rotate>Deplacement (m)</CTxt>
      <CTxt cx={1509} cy={408.7} size={15} rotate>Deplacement (m)</CTxt>
      <CTxt cx={1113.8} cy={481} size={16} family={NARROW}>Jours decimaux</CTxt>
    </div>
  );
}
